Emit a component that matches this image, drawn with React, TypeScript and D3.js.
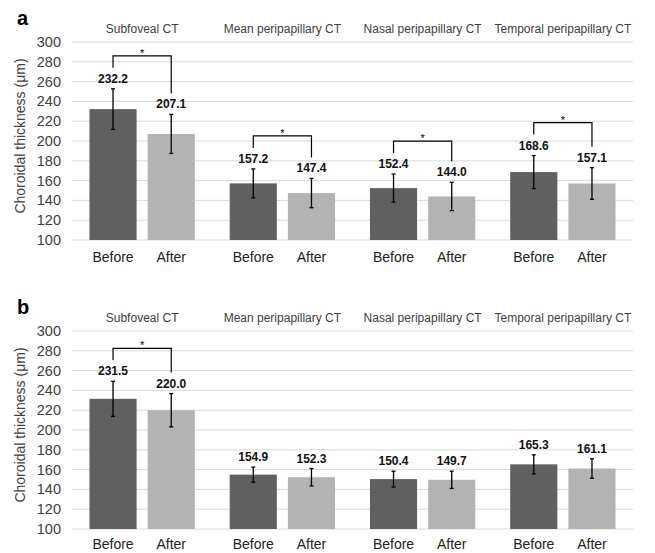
import React from "react";
import * as d3 from "d3";

// categories and groups
const categories = [
  "Subfoveal CT",
  "Mean peripapillary CT",
  "Nasal peripapillary CT",
  "Temporal peripapillary CT",
];
const timepoints = ["Before", "After"];
const yTicks = [100, 120, 140, 160, 180, 200, 220, 240, 260, 280, 300];

// panel a
const beforeA = [232.2, 157.2, 152.4, 168.6];
const afterA = [207.1, 147.4, 144.0, 157.1];
const sdBeforeA = [20.5, 14.6, 14.2, 16.7];
const sdAfterA = [19.7, 14.8, 14.3, 16.0];
const sigA = [true, true, true, true];

// panel b
const beforeB = [231.5, 154.9, 150.4, 165.3];
const afterB = [220.0, 152.3, 149.7, 161.1];
const sdBeforeB = [17.7, 7.6, 8.0, 9.6];
const sdAfterB = [16.8, 8.8, 8.7, 9.8];
const sigB = [true, false, false, false];

const W = 655;
const H = 553;
const FONT = "Arial, 'Liberation Sans', sans-serif";
const COLORS = ["#606060", "#b3b3b3"];

type PanelProps = {
  letter: string;
  top: number;
  before: number[];
  after: number[];
  sdBefore: number[];
  sdAfter: number[];
  sig: boolean[];
};

function Panel({ letter, top, before, after, sdBefore, sdAfter, sig }: PanelProps) {
  const left = 72;
  const right = 633;
  const plotH = 198;

  const y = d3.scaleLinear().domain([100, 300]).range([top + plotH, top]);
  const x0 = d3.scaleBand<string>().domain(categories).range([left, right]);
  const x1 = d3
    .scaleBand<string>()
    .domain(timepoints)
    .range([0, x0.bandwidth()])
    .paddingInner(0.19)
    .paddingOuter(0.3);

  const bw = x1.bandwidth();
  const xLabelY = Math.min(top + plotH + 22, H - 4);

  return (
    <g>
      <text x={17} y={top - 17} fontSize={20} fontWeight="bold" fill="#000">
        {letter}
      </text>

      {/* grid */}
      {yTicks.map((t) => (
        <line
          key={t}
          x1={left}
          x2={right}
          y1={y(t)}
          y2={y(t)}
          stroke="#d9d9d9"
          strokeWidth={1}
        />
      ))}

      {/* y tick labels */}
      {yTicks.map((t) => (
        <text
          key={"l" + t}
          x={61}
          y={y(t)}
          dy="0.35em"
          textAnchor="end"
          fontSize={14.5}
          fill="#404040"
        >
          {t}
        </text>
      ))}

      <text
        transform={`translate(25,${top + plotH / 2 - 5}) rotate(-90)`}
        textAnchor="middle"
        fontSize={14}
        fill="#404040"
      >
        Choroidal thickness (μm)
      </text>

      {categories.map((c, i) => {
        const gx = x0(c)!;
        const vals = [before[i], after[i]];
        const sds = [sdBefore[i], sdAfter[i]];
        const centers = timepoints.map((tp) => gx + x1(tp)! + bw / 2);
        const errTops = vals.map((v, k) => y(v + sds[k]));
        const labelBase = errTops.map((e) => e - 6);
        const legEnds = labelBase.map((b) => b - 15);
        const brTop = Math.min(...legEnds) - 12;
        return (
          <g key={c}>
            <text
              x={gx + x0.bandwidth() / 2}
              y={top - 9}
              textAnchor="middle"
              fontSize={12}
              fill="#404040"
            >
              {c}
            </text>
            {timepoints.map((tp, k) => (
              <g key={tp}>
                <rect
                  x={gx + x1(tp)!}
                  y={y(vals[k])}
                  width={bw}
                  height={y(100) - y(vals[k])}
                  fill={COLORS[k]}
                />
                <line
                  x1={centers[k]}
                  x2={centers[k]}
                  y1={y(vals[k] + sds[k])}
                  y2={y(vals[k] - sds[k])}
                  stroke="#000"
                  strokeWidth={1.3}
                />
                {[vals[k] + sds[k], vals[k] - sds[k]].map((e, j) => (
                  <line
                    key={j}
                    x1={centers[k] - 2}
                    x2={centers[k] + 2}
                    y1={y(e)}
                    y2={y(e)}
                    stroke="#000"
                    strokeWidth={1.3}
                  />
                ))}
                <text
                  x={centers[k]}
                  y={labelBase[k]}
                  textAnchor="middle"
                  fontSize={12}
                  fontWeight="bold"
                  fill="#111"
                >
                  {vals[k].toFixed(1)}
                </text>
                <text
                  x={centers[k]}
                  y={xLabelY}
                  textAnchor="middle"
                  fontSize={14}
                  fill="#222"
                >
                  {tp}
                </text>
              </g>
            ))}
            {sig[i] && (
              <g>
                <path
                  d={`M${centers[0]},${legEnds[0]}V${brTop}H${centers[1]}V${legEnds[1]}`}
                  fill="none"
                  stroke="#000"
                  strokeWidth={1.2}
                />
                <text
                  x={(centers[0] + centers[1]) / 2}
                  y={brTop + 1}
                  textAnchor="middle"
                  fontSize={11}
                  fill="#000"
                >
                  *
                </text>
              </g>
            )}
          </g>
        );
      })}
    </g>
  );
}

export default function App() {
  return (
    <div style={{ position: "absolute", left: 0, top: 0 }}>
      <svg width={W} height={H} style={{ display: "block", fontFamily: FONT, background: "#fff" }}>
        <rect width={W} height={H} fill="#fff" />
        <Panel
          letter="a"
          top={42}
          before={beforeA}
          after={afterA}
          sdBefore={sdBeforeA}
          sdAfter={sdAfterA}
          sig={sigA}
        />
        <Panel
          letter="b"
          top={331}
          before={beforeB}
          after={afterB}
          sdBefore={sdBeforeB}
          sdAfter={sdAfterB}
          sig={sigB}
        />
      </svg>
    </div>
  );
}
